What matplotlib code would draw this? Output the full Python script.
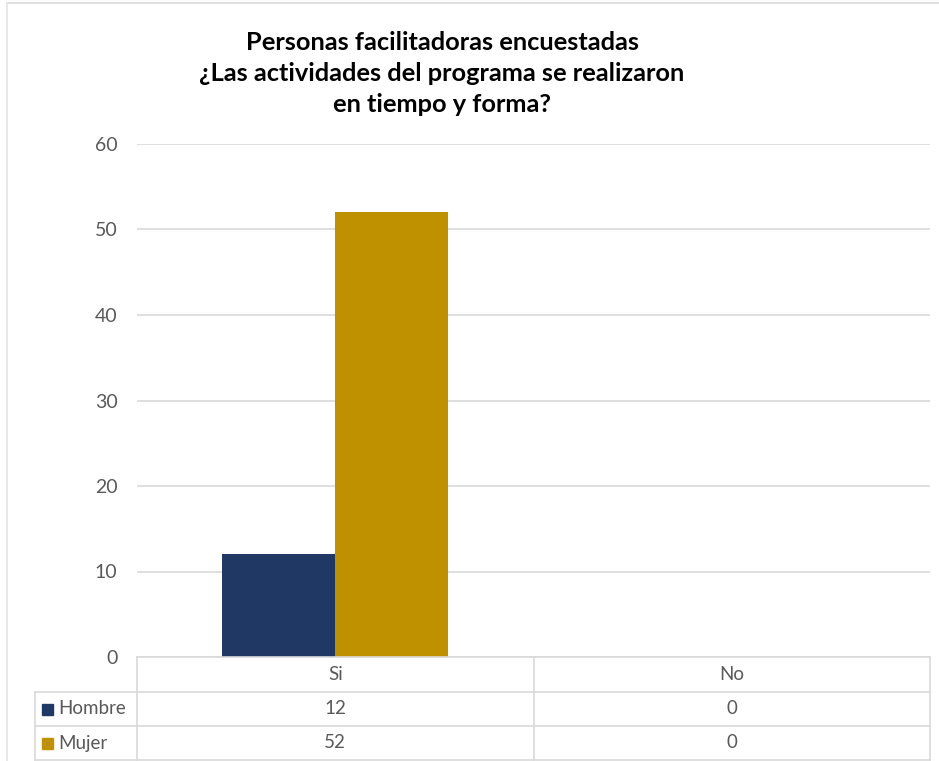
import matplotlib
matplotlib.use("Agg")
import matplotlib.pyplot as plt
from matplotlib.lines import Line2D
from matplotlib.patches import Rectangle

# Survey answers by gender
categories = ["Si", "No"]
series_names = ["Hombre", "Mujer"]
hombre = [12, 0]
mujer = [52, 0]
yticks = [0, 10, 20, 30, 40, 50, 60]
title_lines = [
    "Personas facilitadoras encuestadas",
    "¿Las actividades del programa se realizaron",
    "en tiempo y forma?",
]

colors = ["#203864", "#BF9000"]
grid_color = "#D9D9D9"
text_color = "#595959"
label_font = ["Lato", "DejaVu Sans"]
label_weight = "normal"
title_font = ["Lato", "DejaVu Sans"]

W, H = 939, 761
fig = plt.figure(figsize=(W / 100, H / 100), dpi=100)
fig.patch.set_facecolor("white")


def fx(px):
    return px / W


def fy(py):
    return 1 - py / H


# outer frame of the chart
fig.add_artist(Line2D([fx(7), fx(939)], [fy(3), fy(3)], color="#D9D9D9", lw=1.2))
fig.add_artist(Line2D([fx(7), fx(7)], [fy(3), fy(761)], color="#E4E4E4", lw=1.2))

left, right, top, bottom = 137, 930, 144, 657
ax = fig.add_axes([fx(left), fy(bottom), fx(right - left), fy(top) - fy(bottom)])

x = list(range(len(categories)))
bw = 0.285
ax.bar([i - bw / 2 for i in x], hombre, width=bw, color=colors[0], zorder=3)
ax.bar([i + bw / 2 for i in x], mujer, width=bw, color=colors[1], zorder=3)

ax.set_xlim(-0.5, len(categories) - 0.5)
ax.set_ylim(0, 60)
ax.set_yticks(yticks)
ax.yaxis.grid(True, color=grid_color, lw=1.2, zorder=0)
ax.set_xticks([])
for s in ax.spines.values():
    s.set_visible(False)
ax.tick_params(axis="y", length=0, pad=14, labelsize=14, labelcolor=text_color)
for lab in ax.get_yticklabels():
    lab.set_fontfamily(label_font)
    lab.set_fontweight(label_weight)

# title
for k, line in enumerate(title_lines):
    fig.text(fx(442), fy(43 + 30.5 * k), line, ha="center", va="center",
             fontsize=18.3, fontweight="bold", family=title_font, color="black")

# data table under the plot area
row_edges = [657, 692, 726, 760]
col_edges = [left, (left + right) / 2, right]
tc = "#D9D9D9"
lw = 1.2
# horizontal rules
fig.add_artist(Line2D([fx(left), fx(right)], [fy(657), fy(657)], color=tc, lw=lw))
for yy in row_edges[1:]:
    fig.add_artist(Line2D([fx(35), fx(right)], [fy(yy), fy(yy)], color=tc, lw=lw))
# vertical rules
fig.add_artist(Line2D([fx(35), fx(35)], [fy(692), fy(760)], color=tc, lw=lw))
for xx in col_edges:
    fig.add_artist(Line2D([fx(xx), fx(xx)], [fy(657), fy(760)], color=tc, lw=lw))

# header row
for j, cat in enumerate(categories):
    cx = (col_edges[j] + col_edges[j + 1]) / 2
    fig.text(fx(cx), fy((row_edges[0] + row_edges[1]) / 2), cat, ha="center",
             va="center", fontsize=13.5, family=label_font, fontweight=label_weight,
             color=text_color)

# value rows with legend keys
for r, (name, vals) in enumerate(zip(series_names, [hombre, mujer])):
    yc = (row_edges[r + 1] + row_edges[r + 2]) / 2
    fig.add_artist(Rectangle((fx(42), fy(yc + 5.5)), fx(11), fy(0) - fy(11),
                             transform=fig.transFigure, color=colors[r]))
    fig.text(fx(58), fy(yc), name, ha="left", va="center", fontsize=13.5,
             family=label_font, fontweight=label_weight, color=text_color)
    for j, v in enumerate(vals):
        cx = (col_edges[j] + col_edges[j + 1]) / 2
        fig.text(fx(cx), fy(yc), str(v), ha="center", va="center",
                 fontsize=13.5, family=label_font, fontweight=label_weight,
                 color=text_color)

fig.savefig("out.png", dpi=100, facecolor="white")
